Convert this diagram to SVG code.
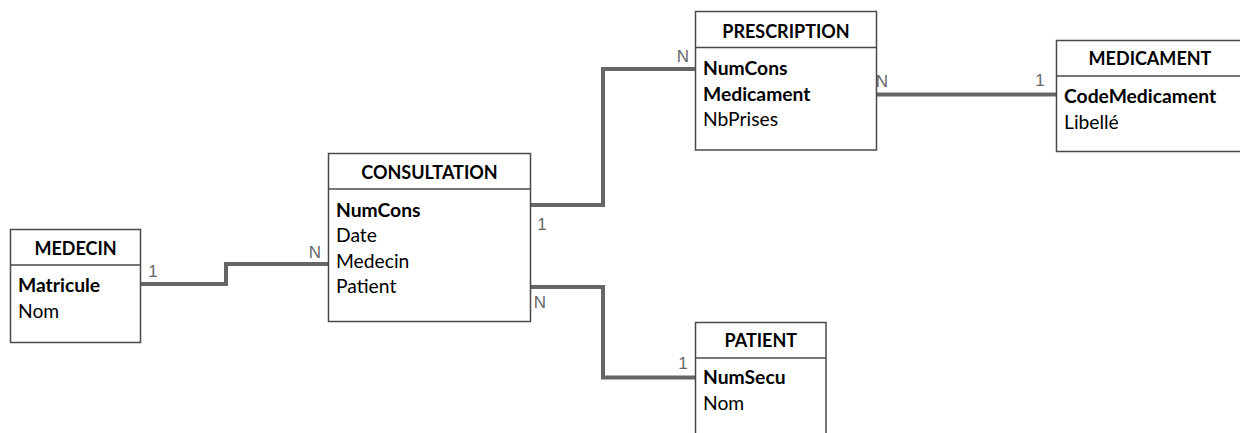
<svg xmlns="http://www.w3.org/2000/svg" width="1240" height="433" viewBox="0 0 1240 433">
<style>
.box{fill:#fff;stroke:#4a4a4a;stroke-width:1.5}
.div{stroke:#4a4a4a;stroke-width:1.5}
.title{font-family:Lato,"Liberation Sans",sans-serif;font-size:18px;font-weight:bold;fill:#000;text-anchor:middle}
.key{font-family:Lato,"Liberation Sans",sans-serif;font-size:19.3px;font-weight:bold;fill:#000}
.fld{font-family:Lato,"Liberation Sans",sans-serif;font-size:19.3px;fill:#000}
.conn{fill:none;stroke:#666;stroke-width:4}
.card{font-family:"Liberation Sans",Arial,sans-serif;font-size:17px;fill:#666;text-anchor:middle}
</style>
<rect width="1240" height="433" fill="#fff"/>
<g id="connectors">
<polyline class="conn" points="141,284 226,284 226,264 328,264"/>
<polyline class="conn" points="530,205 603,205 603,69 695,69"/>
<polyline class="conn" points="877,94.5 1056,94.5"/>
<polyline class="conn" points="530,287 603,287 603,377.5 695,377.5"/>
<text class="card" x="153" y="276.5">1</text>
<text class="card" x="315" y="257.5">N</text>
<text class="card" x="542" y="229.5">1</text>
<text class="card" x="683" y="61.5">N</text>
<text class="card" x="882" y="87">N</text>
<text class="card" x="1040" y="85.5">1</text>
<text class="card" x="540" y="308">N</text>
<text class="card" x="683" y="369">1</text>
</g>
<g id="medecin">
<rect class="box" x="10.5" y="229.5" width="130" height="113"/>
<line class="div" x1="10.5" y1="265" x2="140.5" y2="265"/>
<text class="title" x="75.5" y="255">MEDECIN</text>
<text class="key" x="18" y="292">Matricule</text>
<text class="fld" x="18" y="317.5">Nom</text>
</g>
<g id="consultation">
<rect class="box" x="328.5" y="153.5" width="202" height="168"/>
<line class="div" x1="328.5" y1="189" x2="530.5" y2="189"/>
<text class="title" x="429.5" y="179">CONSULTATION</text>
<text class="key" x="336" y="216.5">NumCons</text>
<text class="fld" x="336" y="242">Date</text>
<text class="fld" x="336" y="267.5">Medecin</text>
<text class="fld" x="336" y="293">Patient</text>
</g>
<g id="prescription">
<rect class="box" x="695.5" y="11.5" width="181" height="138.5"/>
<line class="div" x1="695.5" y1="47.5" x2="876.5" y2="47.5"/>
<text class="title" x="786" y="38">PRESCRIPTION</text>
<text class="key" x="703" y="74.5">NumCons</text>
<text class="key" x="703" y="100.5">Medicament</text>
<text class="fld" x="703" y="125.5">NbPrises</text>
</g>
<g id="medicament">
<rect class="box" x="1056.5" y="40.5" width="190" height="111"/>
<line class="div" x1="1056.5" y1="76" x2="1246" y2="76"/>
<text class="title" x="1150" y="65">MEDICAMENT</text>
<text class="key" x="1064" y="103">CodeMedicament</text>
<text class="fld" x="1064" y="129">Libellé</text>
</g>
<g id="patient">
<rect class="box" x="695.5" y="322.5" width="130.5" height="130"/>
<line class="div" x1="695.5" y1="358" x2="826" y2="358"/>
<text class="title" x="760.8" y="347">PATIENT</text>
<text class="key" x="703" y="383.5">NumSecu</text>
<text class="fld" x="703" y="410">Nom</text>
</g>
</svg>
